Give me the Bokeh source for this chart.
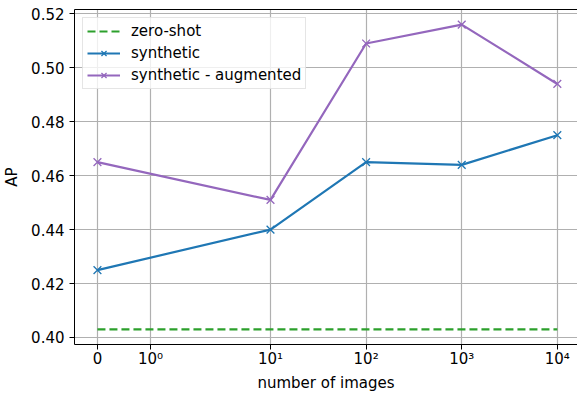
import math
from bokeh.plotting import figure
from bokeh.models import (FixedTicker, CustomJSTickFormatter, LinearAxis, Range1d,
                          Legend, LegendItem, NumeralTickFormatter)
from bokeh.embed import file_html
from bokeh.resources import INLINE

# ---- data ----
n_images = [0, 10, 100, 1000, 10000]
ap_zero_shot = [0.403, 0.403, 0.403, 0.403, 0.403]
ap_synthetic = [0.425, 0.440, 0.465, 0.464, 0.475]
ap_augmented = [0.465, 0.451, 0.509, 0.516, 0.494]

x_tick_values = [0, 1, 10, 100, 1000, 10000]
x_tick_labels = ["0", "10⁰", "10¹", "10²", "10³", "10⁴"]
y_tick_values = [0.40, 0.42, 0.44, 0.46, 0.48, 0.50, 0.52]

# symmetric-log scale (linthresh=2, linscale=1, base 10), as in the reference
LINTHRESH = 2.0
LINSCALE_ADJ = 1.0 / (1.0 - 1.0 / 10.0)


def symlog(v):
    a = abs(v)
    if a <= LINTHRESH:
        return v / LINTHRESH * LINSCALE_ADJ
    return math.copysign(LINSCALE_ADJ + math.log10(a / LINTHRESH), v)


xs = [symlog(v) for v in n_images]
xt = [symlog(v) for v in x_tick_values]

FONT = "DejaVu Sans"
FS = "15px"
BLUE = "#1f77b4"
PURPLE = "#9467bd"
GREEN = "#2ca02c"

p = figure(width=577, height=394, output_backend="svg", toolbar_location=None,
           x_range=Range1d(-0.240, 5.021), y_range=Range1d(0.3974, 0.5216),
           min_border_left=73, min_border_right=0, min_border_top=9,
           min_border_bottom=50, outline_line_color=None)
p.background_fill_color = "white"
p.border_fill_color = "white"

# lines
r_zero = p.line(xs, ap_zero_shot, line_color=GREEN, line_width=2.2, line_dash="8 4")
r_syn_l = p.line(xs, ap_synthetic, line_color=BLUE, line_width=2.2)
r_syn_m = p.scatter(xs, ap_synthetic, marker="x", size=11, line_color=BLUE, line_width=1.3)
r_aug_l = p.line(xs, ap_augmented, line_color=PURPLE, line_width=2.2)
r_aug_m = p.scatter(xs, ap_augmented, marker="x", size=11, line_color=PURPLE, line_width=1.3)

# axes
xa = p.xaxis[0]
xa.ticker = FixedTicker(ticks=xt)
xa.formatter = CustomJSTickFormatter(args=dict(labels=x_tick_labels), code="return labels[index];")
xa.axis_label = "number of images"

ya = p.yaxis[0]
ya.ticker = FixedTicker(ticks=y_tick_values)
ya.formatter = NumeralTickFormatter(format="0.00")
ya.axis_label = "AP"

for ax in (xa, ya):
    ax.axis_line_color = "black"
    ax.axis_line_width = 1
    ax.major_tick_line_color = "black"
    ax.major_tick_out = 5
    ax.major_tick_in = 0
    ax.minor_tick_line_color = None
    ax.major_label_text_font = FONT
    ax.major_label_text_font_size = FS
    ax.major_label_text_color = "black"
    ax.axis_label_text_font = FONT
    ax.axis_label_text_font_size = FS
    ax.axis_label_text_font_style = "normal"
    ax.axis_label_text_color = "black"
xa.major_label_standoff = 0
xa.axis_label_standoff = 3
ya.major_label_standoff = 5
ya.axis_label_standoff = 7

# top spine
top = LinearAxis(ticker=FixedTicker(ticks=[]), major_label_text_font_size="0px",
                 major_tick_out=0, major_tick_in=0, major_label_standoff=0,
                 minor_tick_line_color=None, axis_line_color="black", axis_line_width=1)
p.add_layout(top, "above")

# grid
p.xgrid[0].ticker = FixedTicker(ticks=xt)
p.ygrid[0].ticker = FixedTicker(ticks=y_tick_values)
for g in (p.xgrid[0], p.ygrid[0]):
    g.grid_line_color = "#b0b0b0"
    g.grid_line_width = 1.2

legend = Legend(items=[
    LegendItem(label="zero-shot", renderers=[r_zero]),
    LegendItem(label="synthetic", renderers=[r_syn_l, r_syn_m]),
    LegendItem(label="synthetic - augmented", renderers=[r_aug_l, r_aug_m]),
], location="top_left")
legend.margin = 8
legend.padding = 4
legend.spacing = 4
legend.glyph_width = 33
legend.glyph_height = 18
legend.label_height = 18
legend.label_standoff = 11
legend.label_text_font = FONT
legend.label_text_font_size = FS
legend.label_text_color = "black"
legend.border_line_color = "#cccccc"
legend.border_line_width = 1
legend.background_fill_alpha = 0.8
p.add_layout(legend)

open("out.html", "w").write(file_html(p, INLINE))
